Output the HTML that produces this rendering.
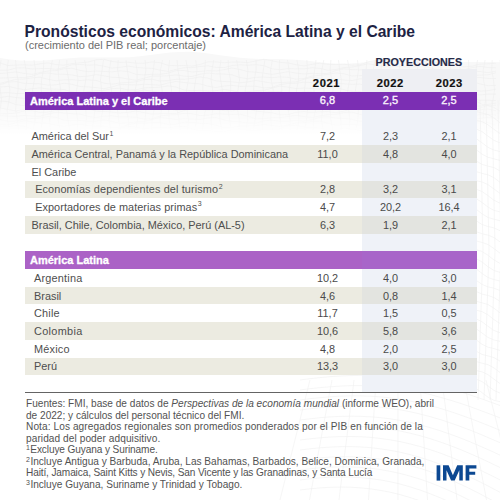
<!DOCTYPE html>
<html><head><meta charset="utf-8">
<style>
html,body{margin:0;padding:0;}
body{width:500px;height:500px;position:relative;overflow:hidden;background:#fff;font-family:"Liberation Sans",sans-serif;}
.title{position:absolute;left:24.5px;top:21.5px;font-size:15.65px;font-weight:bold;color:#1d2243;white-space:nowrap;line-height:20px;}
.sub{position:absolute;left:25px;top:38px;font-size:11px;color:#6c6c6c;white-space:nowrap;line-height:14px;}
.proj{position:absolute;left:361.8px;top:69px;width:115.2px;height:323.5px;background:linear-gradient(to bottom,#eeeff3 0,#eeeff3 22.5px,#eff2f8 22.5px,#eff2f8 100%);}
.projh{position:absolute;left:375.5px;top:55px;font-size:10.75px;font-weight:bold;color:#252a48;white-space:nowrap;line-height:14px;-webkit-text-stroke:0.15px #252a48;}
.yr{position:absolute;top:75.7px;width:60px;text-align:center;font-size:11.2px;font-weight:bold;color:#111;line-height:14px;letter-spacing:0.6px;text-indent:0.6px;-webkit-text-stroke:0.2px #111;}
.bar{position:absolute;left:25px;width:452px;height:17.68px;background:#7b2fb3;}
.bar2{background:linear-gradient(to right,#ab62c6 0,#ab62c6 337px,#a865c9 337px,#a865c9 100%);}
.bl{position:absolute;left:5px;top:0;line-height:17.68px;font-size:11px;font-weight:bold;color:#fff;white-space:nowrap;-webkit-text-stroke:0.3px #fff;padding-top:0.5px;}
.bv{position:absolute;top:0;width:60px;text-align:center;line-height:17.68px;font-size:11px;color:#fbf3fd;-webkit-text-stroke:0.35px #fbf3fd;}
.beige{position:absolute;left:25px;width:452px;height:17.68px;background:linear-gradient(to right,#ecebe1 0,#ecebe1 337px,#e3e4e0 337px,#e3e4e0 100%);}
.lab{position:absolute;padding-top:0.8px;line-height:17.68px;font-size:10.9px;color:#4e4e4e;white-space:nowrap;}
.lab sup{font-size:7px;vertical-align:top;line-height:10px;position:relative;top:0.3px;margin-left:0.5px;}
.num{position:absolute;padding-top:0.8px;width:60px;text-align:center;line-height:17.68px;font-size:10.9px;color:#4a4a4a;}
.rule{position:absolute;left:25px;top:391.9px;width:452px;height:1.4px;background:#646464;}
.foot{position:absolute;left:26px;top:398.3px;font-size:10.1px;line-height:11.5px;color:#525252;white-space:nowrap;}
.foot sup{font-size:7px;vertical-align:top;line-height:8px;margin-right:0.5px;}
</style></head><body>
<svg class="tex" width="500" height="500" viewBox="0 0 500 500" style="position:absolute;left:0;top:0"><defs><linearGradient id="fd" x1="0" y1="0" x2="0" y2="1" gradientUnits="objectBoundingBox"><stop offset="0" stop-color="#fff" stop-opacity="1"/><stop offset="0.6" stop-color="#fff" stop-opacity="1"/><stop offset="1" stop-color="#fff" stop-opacity="0"/></linearGradient><mask id="mk"><rect x="0" y="50" width="500" height="86" fill="url(#fd)"/></mask></defs><g mask="url(#mk)"><polygon points="0,58.1 10,59.4 20,60.4 30,60.8 40,60.7 50,60.1 60,59.1 70,58.3 80,57.6 90,57.4 100,57.4 110,57.5 120,57.5 130,57.2 140,56.3 150,55.1 160,53.8 170,52.6 180,51.9 190,51.8 200,52.5 210,53.7 220,55.2 230,56.6 240,57.8 250,58.5 260,58.9 270,58.9 280,59.1 290,59.4 300,60.1 310,61.1 320,62.2 330,63.2 340,63.7 350,63.6 360,62.8 370,61.7 380,60.4 390,59.2 400,58.6 410,58.5 420,59.0 430,59.8 440,60.7 450,61.5 460,61.9 470,62.0 480,61.9 490,61.9 500,62.2 500,135 0,135" fill="#f8f8f8"/><g fill="none" stroke="#eeeeee" stroke-width="0.6"><polyline points="0,63.0 8,65.5 16,65.1 24,64.8 32,65.2 40,63.8 48,62.9 56,64.6 64,65.2 72,63.6 80,62.8 88,62.1 96,59.8 104,59.3 112,61.5 120,62.4 128,62.2 136,63.2 144,63.3 152,61.9 160,62.7 168,65.3 176,65.7 184,65.5 192,66.1 200,64.5 208,61.8 216,61.9 224,62.8 232,62.1 240,62.1 248,62.6 256,60.9 264,59.3 272,60.8 280,62.4 288,63.0 296,64.7 304,65.9 312,64.3 320,63.2 328,64.4 336,64.6 344,64.2 352,65.2 360,64.8 368,61.8 376,60.4 384,60.9 392,60.5 400,60.8 408,63.0 416,63.1 424,61.5 432,61.8 440,63.1 448,63.2 456,64.6 464,66.9 472,66.2 480,64.1 488,63.8 496,63.2"/><polyline points="0,70.2 8,70.2 16,68.0 24,67.8 32,69.0 40,68.6 48,68.5 56,69.3 64,67.6 72,64.7 80,64.5 88,65.1 96,64.9 104,66.2 112,68.1 120,67.3 128,66.1 136,67.3 144,68.1 152,68.3 160,70.2 168,71.4 176,69.4 184,67.7 192,67.6 200,66.5 208,65.8 216,67.4 224,67.6 232,65.5 240,64.8 248,65.2 256,64.7 264,65.7 272,68.8 280,69.7 288,68.6 296,68.9 304,68.9 312,67.7 320,68.4 328,70.3 336,69.5 344,67.6 352,67.0 360,65.6 368,63.8 376,65.0 384,66.9 392,66.6 400,66.4 408,67.1 416,66.4 424,65.9 432,68.4 440,70.4 448,70.0 456,70.1 464,69.9 472,67.6 480,66.3 488,67.6 496,67.8"/><polyline points="0,73.5 8,72.8 16,71.9 24,73.4 32,74.4 40,72.5 48,71.0 56,70.6 64,68.8 72,68.2 80,70.4 88,71.7 96,71.0 104,71.4 112,71.9 120,70.8 128,71.5 136,74.3 144,75.0 152,74.2 160,74.3 168,73.2 176,70.6 184,70.5 192,72.0 200,71.4 208,70.7 216,71.0 224,69.7 232,68.0 240,69.5 248,71.7 256,72.2 264,73.2 272,74.4 280,73.1 288,71.7 296,73.1 304,74.0 312,73.3 320,73.7 328,73.4 336,70.5 344,68.8 352,69.6 360,69.9 368,69.9 376,71.5 384,71.9 392,70.1 400,70.2 408,72.0 416,72.6 424,73.5 432,75.6 440,75.1 448,72.6 456,72.1 464,72.2 472,71.1 480,71.5 488,72.7 496,71.1"/><polyline points="0,78.0 8,77.9 16,77.3 24,77.7 32,76.3 40,73.4 48,73.0 56,74.2 64,74.3 72,75.0 80,76.7 88,76.1 96,74.6 104,75.8 112,77.3 120,77.6 128,79.0 136,80.2 144,78.2 152,76.1 160,76.1 168,75.8 176,74.9 184,76.1 192,76.5 200,74.2 208,73.0 216,73.9 224,74.0 232,74.8 240,77.6 248,78.7 256,77.3 264,77.1 272,77.7 280,76.9 288,77.3 296,79.2 304,78.5 312,76.1 320,75.3 328,74.4 336,72.9 344,73.8 352,76.0 360,75.6 368,74.8 376,75.5 384,75.3 392,74.9 400,77.2 408,79.5 416,79.0 424,78.4 432,78.3 440,76.5 448,75.1 456,76.4 464,77.1 472,75.6 480,75.1 488,74.8 496,72.8"/><polyline points="0,83.3 8,81.4 16,79.3 24,79.0 32,77.9 40,77.2 48,79.3 56,80.8 64,79.8 72,79.7 80,80.5 88,79.9 96,80.4 104,83.2 112,84.2 120,83.0 128,82.5 136,81.8 144,79.6 152,79.3 160,81.0 168,80.7 176,79.3 184,79.3 192,78.4 200,76.9 208,78.2 216,80.9 224,81.5 232,81.8 240,82.8 248,81.9 256,80.5 264,81.8 272,83.2 280,82.5 288,82.2 296,81.9 304,79.3 312,77.3 320,78.4 328,79.2 336,78.9 344,80.0 352,80.5 360,78.8 368,78.7 376,80.9 384,82.0 392,82.5 400,84.1 408,83.8 416,81.2 424,80.5 432,81.1 440,80.4 448,80.3 456,81.3 464,79.9 472,77.4 480,77.5 488,78.4 496,78.5"/><polyline points="0,84.9 8,82.1 16,81.6 24,83.3 32,83.6 40,83.8 48,85.2 56,84.8 64,83.2 72,84.3 80,86.5 88,86.9 96,87.6 104,88.7 112,87.0 120,84.5 128,84.7 136,85.0 144,84.2 152,84.7 160,85.2 168,83.0 176,81.4 184,82.5 192,83.3 200,83.9 208,86.2 216,87.5 224,86.0 232,85.4 240,86.4 248,86.2 256,86.3 264,87.9 272,87.4 280,84.6 288,83.5 296,83.3 304,82.1 312,82.7 320,84.8 328,84.6 336,83.2 344,83.8 352,84.3 360,84.1 368,86.1 376,88.6 384,88.0 392,86.7 400,86.7 408,85.5 416,84.0 424,85.3 432,86.2 440,84.6 448,83.4 456,83.2 464,81.8 472,81.4 480,84.0 488,85.7 496,85.4"/><polyline points="0,87.0 8,86.4 16,88.1 24,89.8 32,88.7 40,87.9 48,89.0 56,89.1 64,89.5 72,92.0 80,93.3 88,91.7 96,90.7 104,90.4 112,88.7 120,88.2 128,89.9 136,89.8 144,87.9 152,87.5 160,87.2 168,85.9 176,87.0 184,90.0 192,90.7 200,90.3 208,91.1 216,90.7 224,89.4 232,90.6 240,92.4 248,91.7 256,90.6 264,90.3 272,88.1 280,86.1 288,87.2 296,88.5 304,88.0 312,88.4 320,89.1 328,87.7 336,87.3 344,89.8 352,91.4 360,91.5 368,92.5 376,92.4 384,89.9 392,89.0 400,90.1 408,89.8 416,89.2 424,89.8 432,88.7 440,86.0 448,85.9 456,87.5 464,87.9 472,89.1 480,91.1 488,90.7 496,89.1"/><polyline points="0,93.0 8,92.6 16,93.5 24,93.5 32,92.0 40,93.0 48,95.6 56,96.3 64,96.3 72,97.1 80,95.7 88,93.2 96,93.3 104,94.2 112,93.4 120,93.3 128,93.7 136,91.8 144,89.9 152,91.2 160,92.7 168,93.1 176,94.9 184,96.2 192,94.7 200,93.8 208,95.1 216,95.6 224,95.4 232,96.6 240,96.2 248,93.3 256,91.8 264,92.1 272,91.5 280,91.6 288,93.6 296,93.5 304,91.8 312,92.0 320,93.2 328,93.4 336,95.0 344,97.4 352,97.0 360,95.1 368,95.0 376,94.5 384,93.2 392,94.1 400,95.2 408,93.5 416,91.7 424,91.6 432,90.8 440,90.4 448,92.9 456,94.9 464,94.3 472,94.3 480,95.0 488,94.1 496,94.1"/><polyline points="0,97.5 8,96.3 16,97.5 24,98.3 32,98.6 40,100.8 48,102.2 56,100.5 64,99.0 72,99.0 80,97.9 88,97.2 96,98.7 104,98.8 112,96.6 120,95.7 128,95.8 136,95.1 144,95.9 152,98.9 160,99.8 168,98.9 176,99.3 184,99.5 192,98.4 200,99.4 208,101.5 216,100.8 224,99.0 232,98.5 240,96.9 248,95.0 256,96.0 264,97.7 272,97.1 280,96.8 288,97.5 296,96.6 304,96.1 312,98.6 320,100.7 328,100.5 336,100.9 344,101.0 352,98.8 360,97.6 368,99.0 376,99.2 384,98.1 392,98.1 400,97.3 408,94.8 416,94.5 424,96.5 432,97.3 440,97.9 448,99.6 456,99.4 464,97.7 472,98.5 480,100.2 488,100.2 496,100.6"/><polyline points="0,101.0 8,101.7 16,104.6 24,105.6 32,105.0 40,105.4 48,104.4 56,102.0 64,101.9 72,103.3 80,102.7 88,101.9 96,102.1 104,100.5 112,98.6 120,99.9 128,101.9 136,102.3 144,103.4 152,104.7 160,103.5 168,102.3 176,103.9 184,104.9 192,104.5 200,105.1 208,104.9 216,102.0 224,100.2 232,100.9 240,100.8 248,100.6 256,102.2 264,102.3 272,100.4 280,100.4 288,102.1 296,102.7 304,103.9 312,106.1 320,105.8 328,103.6 336,103.3 344,103.5 352,102.4 360,102.9 368,104.0 376,102.4 384,100.0 392,100.0 400,99.9 408,99.6 416,101.7 424,103.9 432,103.2 440,102.5 448,103.4 456,103.3 464,103.2 472,105.3 480,106.3 488,104.4 496,103.1"/><polyline points="0,107.9 8,109.5 16,111.0 24,109.3 32,107.3 40,107.5 48,107.1 56,106.3 64,107.4 72,107.7 80,105.3 88,103.9 96,104.5 104,104.4 112,105.0 120,107.7 128,108.8 136,107.5 144,107.6 152,108.3 160,107.6 168,108.3 176,110.4 184,109.8 192,107.5 200,106.7 208,105.8 216,104.1 224,104.8 232,106.8 240,106.2 248,105.2 256,105.8 264,105.5 272,105.1 280,107.4 288,109.9 296,109.6 304,109.2 312,109.4 320,107.7 328,106.4 336,107.8 344,108.5 352,107.0 360,106.4 368,105.9 376,103.6 384,103.2 392,105.5 400,106.7 408,106.7 416,108.0 424,108.1 432,106.5 440,107.1 448,109.3 456,109.6 464,109.3 472,109.8 480,108.1 488,105.3 496,105.2"/><polyline points="0,113.8 8,113.6 16,113.1 24,110.9 32,110.7 40,112.4 48,112.0 56,110.5 64,110.3 72,109.3 80,107.5 88,108.6 96,111.1 104,111.6 112,112.0 120,113.1 128,112.3 136,111.0 144,112.6 152,114.2 160,113.7 168,113.5 176,113.4 184,110.7 192,108.7 200,109.6 208,110.2 216,109.7 224,110.6 232,111.0 240,109.1 248,108.9 256,111.0 264,112.1 272,112.8 280,114.7 288,114.6 296,112.2 304,111.7 312,112.4 320,111.8 328,111.7 336,112.7 344,111.2 352,108.5 360,108.4 368,109.0 376,108.9 384,110.5 392,112.7 400,112.1 408,110.9 416,111.9 424,112.4 432,112.3 440,114.1 448,115.3 456,113.2 464,111.4 472,111.1 480,109.8 488,109.0 496,110.8"/><polyline points="0,115.8 8,116.1 16,116.4 24,115.5 32,116.1 40,116.4 48,114.0 56,112.3 64,113.1 72,113.7 80,114.1 88,116.4 96,117.7 104,116.2 112,115.8 120,117.0 128,116.9 136,117.3 144,119.1 152,118.8 160,116.1 168,115.0 176,114.6 184,113.3 192,113.7 200,115.6 208,115.2 216,113.7 224,114.1 232,114.4 240,114.2 248,116.3 256,118.9 264,118.6 272,117.6 280,117.7 288,116.6 296,115.4 304,116.6 312,117.6 320,115.9 328,114.7 336,114.3 344,112.6 352,112.0 360,114.4 368,116.0 376,115.6 384,116.2 392,116.7 400,115.4 408,115.8 416,118.3 424,118.9 432,118.1 440,118.1 448,116.8 456,114.1 464,113.8 472,115.2 480,114.8 488,114.4 496,115.1"/><polyline points="0,119.6 8,121.3 16,121.1 24,119.1 32,118.5 40,118.0 48,116.5 56,117.4 64,120.2 72,120.8 80,120.5 88,121.4 96,121.1 104,119.9 112,121.4 120,123.4 128,122.8 136,122.0 144,121.7 152,119.5 160,117.4 168,118.4 176,119.5 184,118.8 192,119.1 200,119.5 208,117.9 216,117.5 224,119.9 232,121.5 240,121.8 248,123.1 256,123.3 264,120.9 272,120.2 280,121.4 288,121.2 296,120.6 304,121.2 312,119.9 320,117.1 328,116.8 336,118.1 344,118.3 352,119.3 360,121.4 368,120.9 376,119.4 384,120.4 392,121.6 400,121.6 408,122.9 416,124.0 424,122.0 432,119.7 440,119.5 448,119.0 456,118.2 464,119.5 472,120.3 480,118.4 488,117.4 496,118.3"/><polyline points="0,124.7 8,124.9 16,122.8 24,120.7 32,121.8 40,123.0 48,123.3 56,125.1 64,126.4 72,125.0 80,124.2 88,125.7 96,126.3 104,126.3 112,127.8 120,127.6 128,124.7 136,123.2 144,123.4 152,122.6 160,122.6 168,124.4 176,124.1 184,122.2 192,122.4 200,123.4 208,123.5 216,125.2 224,127.8 232,127.5 240,126.0 248,126.0 256,125.6 264,124.5 272,125.5 280,126.6 288,124.9 296,122.9 304,122.7 312,121.6 320,121.0 328,123.3 336,125.1 344,124.5 352,124.5 360,125.2 368,124.5 376,124.7 384,127.2 392,128.2 400,126.8 408,126.3 416,125.4 424,123.0 432,122.5 440,124.2 448,124.1 456,123.1 464,123.4 472,122.8 480,121.3 488,122.6 496,125.3"/><polyline points="0,126.7 8,126.7 16,125.6 24,126.3 32,129.1 40,130.0 48,129.1 56,129.6 64,129.9 72,129.0 80,130.2 88,132.5 96,132.0 104,130.4 112,130.0 120,128.4 128,126.3 136,127.2 144,128.7 152,127.9 160,127.4 168,127.9 176,126.8 184,126.3 192,128.8 200,130.9 208,130.9 216,131.5 224,131.8 232,129.8 240,128.8 248,130.3 256,130.5 264,129.5 272,129.5 280,128.6 288,125.8 296,125.3 304,127.1 312,127.7 320,128.1 328,129.8 336,129.6 344,128.0 352,128.9 360,130.7 368,130.9 376,131.6 384,132.6 392,130.8 400,128.1 408,128.0 416,128.2 424,127.4 432,128.2 440,129.0 448,127.2 456,125.8 464,126.9 472,127.7 480,128.3 488,130.8 496,132.2"/><polyline points="1.1,60 -0.8,70 -1.4,80 0.4,90 1.5,100 -0.0,110 -1.5,120 -0.4,130"/><polyline points="8.3,60 7.0,70 8.3,80 9.9,90 9.1,100 7.2,110 7.5,120 9.5,130"/><polyline points="15.6,60 16.2,70 18.1,80 18.1,90 16.2,100 15.6,110 17.4,120 18.5,130"/><polyline points="24.2,60 26.1,70 26.9,80 25.3,90 24.0,100 25.3,110 26.9,120 26.1,130"/><polyline points="34.0,60 35.5,70 34.4,80 32.6,90 33.2,100 35.1,110 35.1,120 33.2,130"/><polyline points="43.8,60 43.5,70 41.5,80 41.2,90 43.1,100 43.9,110 42.3,120 41.0,130"/><polyline points="52.4,60 50.6,70 49.5,80 51.0,90 52.5,100 51.4,110 49.6,120 50.2,130"/><polyline points="59.7,60 58.1,70 58.9,80 60.8,90 60.5,100 58.5,110 58.2,120 60.1,130"/><polyline points="66.9,60 66.9,70 68.8,80 69.4,90 67.6,100 66.5,110 68.0,120 69.5,130"/><polyline points="75.1,60 76.7,70 78.0,80 76.7,90 75.1,100 75.9,110 77.8,120 77.5,130"/><polyline points="84.6,60 86.4,70 85.8,80 83.9,90 83.9,100 85.8,110 86.4,120 84.6,130"/><polyline points="94.5,60 94.8,70 92.9,80 92.1,90 93.7,100 95.0,110 93.7,120 92.1,130"/><polyline points="103.5,60 102.0,70 100.5,80 101.6,90 103.4,100 102.8,110 100.9,120 100.9,130"/><polyline points="111.1,60 109.2,70 109.5,80 111.5,90 111.8,100 109.9,110 109.1,120 110.7,130"/><polyline points="118.2,60 117.6,70 119.4,80 120.5,90 119.0,100 117.5,110 118.6,120 120.4,130"/><polyline points="126.0,60 127.3,70 128.9,80 128.1,90 126.2,100 126.5,110 128.5,120 128.8,130"/><polyline points="135.2,60 137.1,70 137.1,80 135.2,90 134.6,100 136.4,110 137.5,120 136.0,130"/><polyline points="145.1,60 145.9,70 144.3,80 143.0,90 144.3,100 145.9,110 145.1,120 143.2,130"/><polyline points="154.5,60 153.4,70 151.6,80 152.2,90 154.1,100 154.1,110 152.2,120 151.6,130"/><polyline points="162.5,60 160.5,70 160.2,80 162.1,90 162.9,100 161.3,110 160.0,120 161.3,130"/><polyline points="169.6,60 168.5,70 170.0,80 171.5,90 170.4,100 168.6,110 169.2,120 171.1,130"/><polyline points="177.1,60 177.9,70 179.8,80 179.5,90 177.5,100 177.3,110 179.1,120 179.9,130"/><polyline points="185.9,60 187.8,70 188.4,80 186.6,90 185.5,100 187.0,110 188.5,120 187.4,130"/><polyline points="195.7,60 197.0,70 195.7,80 194.1,90 194.9,100 196.8,110 196.5,120 194.5,130"/><polyline points="205.4,60 204.8,70 202.9,80 202.9,90 204.8,100 205.4,110 203.6,120 202.5,130"/><polyline points="213.8,60 211.9,70 211.1,80 212.7,90 214.0,100 212.7,110 211.1,120 211.9,130"/><polyline points="221.0,60 219.5,70 220.6,80 222.4,90 221.8,100 219.9,110 219.9,120 221.8,130"/><polyline points="228.2,60 228.5,70 230.5,80 230.7,90 228.9,100 228.1,110 229.7,120 231.0,130"/><polyline points="236.6,60 238.4,70 239.5,80 238.0,90 236.5,100 237.6,110 239.4,120 238.8,130"/><polyline points="246.3,60 247.9,70 247.1,80 245.2,90 245.5,100 247.5,110 247.7,120 245.9,130"/><polyline points="256.1,60 256.1,70 254.2,80 253.6,90 255.4,100 256.5,110 255.0,120 253.5,130"/><polyline points="264.9,60 263.3,70 262.0,80 263.3,90 264.9,100 264.1,110 262.2,120 262.5,130"/><polyline points="272.4,60 270.6,70 271.2,80 273.2,90 273.1,100 271.2,110 270.6,120 272.5,130"/><polyline points="279.5,60 279.3,70 281.1,80 281.9,90 280.3,100 279.0,110 280.3,120 281.9,130"/><polyline points="287.5,60 289.0,70 290.5,80 289.4,90 287.6,100 288.2,110 290.2,120 290.1,130"/><polyline points="296.9,60 298.8,70 298.5,80 296.5,90 296.3,100 298.2,110 298.9,120 297.3,130"/><polyline points="306.8,60 307.4,70 305.6,80 304.5,90 306.0,100 307.5,110 306.4,120 304.6,130"/><polyline points="316.0,60 314.7,70 313.1,80 313.9,90 315.8,100 315.5,110 313.5,120 313.3,130"/><polyline points="323.8,60 321.8,70 321.9,80 323.8,90 324.4,100 322.5,110 321.5,120 323.0,130"/><polyline points="330.9,60 330.1,70 331.7,80 333.0,90 331.7,100 330.1,110 330.9,120 332.8,130"/><polyline points="338.5,60 339.6,70 341.4,80 340.8,90 338.8,100 338.9,110 340.8,120 341.3,130"/><polyline points="347.5,60 349.5,70 349.7,80 347.8,90 347.1,100 348.7,110 350.0,120 348.7,130"/><polyline points="357.5,60 358.5,70 357.0,80 355.5,90 356.6,100 358.4,110 357.8,120 355.8,130"/><polyline points="366.9,60 366.1,70 364.2,80 364.5,90 366.5,100 366.7,110 364.8,120 364.1,130"/><polyline points="375.1,60 373.2,70 372.6,80 374.5,90 375.5,100 374.0,110 372.5,120 373.6,130"/><polyline points="382.3,60 381.0,70 382.3,80 383.9,90 383.1,100 381.2,110 381.5,120 383.5,130"/><polyline points="389.6,60 390.2,70 392.2,80 392.1,90 390.2,100 389.7,110 391.5,120 392.5,130"/><polyline points="398.3,60 400.2,70 400.9,80 399.3,90 398.0,100 399.3,110 400.9,120 400.1,130"/><polyline points="408.0,60 409.5,70 408.4,80 406.6,90 407.2,100 409.2,110 409.1,120 407.2,130"/><polyline points="417.8,60 417.5,70 415.5,80 415.3,90 417.2,100 417.9,110 416.2,120 415.0,130"/><polyline points="426.3,60 424.5,70 423.5,80 425.0,90 426.5,100 425.4,110 423.6,120 424.2,130"/><polyline points="433.7,60 432.1,70 432.9,80 434.8,90 434.5,100 432.5,110 432.3,120 434.2,130"/><polyline points="440.8,60 440.9,70 442.8,80 443.3,90 441.5,100 440.5,110 442.0,120 443.5,130"/><polyline points="449.1,60 450.8,70 452.0,80 450.7,90 449.0,100 449.9,110 451.8,120 451.4,130"/><polyline points="458.6,60 460.4,70 459.8,80 457.8,90 457.9,100 459.8,110 460.3,120 458.5,130"/><polyline points="468.5,60 468.7,70 466.8,80 466.1,90 467.8,100 469.0,110 467.7,120 466.0,130"/><polyline points="477.5,60 476.0,70 474.5,80 475.6,90 477.4,100 476.8,110 474.8,120 474.9,130"/><polyline points="485.1,60 483.2,70 483.5,80 485.5,90 485.7,100 483.8,110 483.1,120 484.8,130"/><polyline points="492.2,60 491.7,70 493.5,80 494.5,90 493.0,100 491.5,110 492.6,120 494.4,130"/><polyline points="500.0,60 501.3,70 503.0,80 502.1,90 500.2,100 500.6,110 502.5,120 502.7,130"/></g></g><g fill="none" stroke="#f0f0f0" stroke-width="0.6"><polyline points="300,380.0 310,378.7 320,377.6 330,376.7 340,376.0 350,375.6 360,375.4 370,375.6 380,376.1 390,376.9 400,378.0 410,379.5 420,381.4 430,383.5 440,386.0 450,388.7 460,391.7 470,394.9 480,398.3 490,401.9 500,405.5"/><polyline points="300,390.0 310,388.7 320,387.6 330,386.8 340,386.1 350,385.7 360,385.6 370,385.9 380,386.4 390,387.4 400,388.6 410,390.3 420,392.2 430,394.5 440,397.2 450,400.1 460,403.2 470,406.6 480,410.3 490,414.0 500,417.9"/><polyline points="300,400.0 310,398.7 320,397.7 330,396.8 340,396.2 350,395.9 360,395.9 370,396.2 380,396.8 390,397.9 400,399.2 410,401.0 420,403.1 430,405.5 440,408.3 450,411.4 460,414.8 470,418.4 480,422.2 490,426.2 500,430.3"/><polyline points="300,410.0 310,408.8 320,407.7 330,406.9 340,406.3 350,406.0 360,406.1 370,406.5 380,407.2 390,408.3 400,409.8 410,411.7 420,414.0 430,416.6 440,419.5 450,422.8 460,426.3 470,430.1 480,434.1 490,438.4 500,442.7"/><polyline points="300,420.0 310,418.8 320,417.7 330,416.9 340,416.4 350,416.2 360,416.3 370,416.8 380,417.6 390,418.8 400,420.4 410,422.4 420,424.8 430,427.6 440,430.7 450,434.1 460,437.8 470,441.8 480,446.1 490,450.5 500,455.1"/><polyline points="300,430.0 310,428.8 320,427.7 330,427.0 340,426.5 350,426.3 360,426.5 370,427.1 380,428.0 390,429.3 400,431.0 410,433.2 420,435.7 430,438.6 440,441.9 450,445.5 460,449.4 470,453.6 480,458.0 490,462.7 500,467.5"/><polyline points="300,440.0 310,438.8 320,437.8 330,437.0 340,436.6 350,436.5 360,436.7 370,437.3 380,438.4 390,439.8 400,441.6 410,443.9 420,446.5 430,449.6 440,453.0 450,456.8 460,460.9 470,465.3 480,470.0 490,474.9 500,479.9"/><polyline points="300,450.0 310,448.8 320,447.8 330,447.1 340,446.7 350,446.6 360,446.9 370,447.6 380,448.8 390,450.3 400,452.2 410,454.6 420,457.4 430,460.6 440,464.2 450,468.2 460,472.5 470,477.1 480,481.9 490,487.0 500,492.3"/><polyline points="300,460.0 310,458.8 320,457.8 330,457.1 340,456.8 350,456.8 360,457.2 370,457.9 380,459.1 390,460.8 400,462.8 410,465.3 420,468.3 430,471.6 440,475.4 450,479.5 460,484.0 470,488.8 480,493.9 490,499.2 500,504.7"/><polyline points="300,470.0 310,468.8 320,467.8 330,467.2 340,466.9 350,466.9 360,467.4 370,468.2 380,469.5 390,471.3 400,473.4 410,476.1 420,479.1 430,482.6 440,486.6 450,490.9 460,495.5 470,500.5 480,505.8 490,511.4 500,517.1"/><polyline points="300,480.0 310,478.8 320,477.9 330,477.2 340,477.0 350,477.1 360,477.6 370,478.5 380,479.9 390,481.7 400,484.0 410,486.8 420,490.0 430,493.7 440,497.7 450,502.2 460,507.1 470,512.3 480,517.8 490,523.5 500,529.5"/><polyline points="300,490.0 310,488.8 320,487.9 330,487.3 340,487.1 350,487.2 360,487.8 370,488.8 380,490.3 390,492.2 400,494.6 410,497.5 420,500.9 430,504.7 440,508.9 450,513.6 460,518.6 470,524.0 480,529.7 490,535.7 500,541.9"/><polyline points="310.0,380 307.5,390 305.0,400 302.5,410 300.0,420 297.5,430 295.0,440 292.5,450 290.0,460 287.5,470 285.0,480 282.5,490 280.0,500"/><polyline points="332.0,380 330.1,390 328.2,400 326.4,410 324.5,420 322.6,430 320.8,440 318.9,450 317.0,460 315.1,470 313.2,480 311.4,490 309.5,500"/><polyline points="354.0,380 352.8,390 351.5,400 350.2,410 349.0,420 347.8,430 346.5,440 345.2,450 344.0,460 342.8,470 341.5,480 340.2,490 339.0,500"/><polyline points="376.0,380 375.4,390 374.8,400 374.1,410 373.5,420 372.9,430 372.2,440 371.6,450 371.0,460 370.4,470 369.8,480 369.1,490 368.5,500"/><polyline points="398.0,380 398.0,390 398.0,400 398.0,410 398.0,420 398.0,430 398.0,440 398.0,450 398.0,460 398.0,470 398.0,480 398.0,490 398.0,500"/><polyline points="420.0,380 420.6,390 421.2,400 421.9,410 422.5,420 423.1,430 423.8,440 424.4,450 425.0,460 425.6,470 426.2,480 426.9,490 427.5,500"/><polyline points="442.0,380 443.2,390 444.5,400 445.8,410 447.0,420 448.2,430 449.5,440 450.8,450 452.0,460 453.2,470 454.5,480 455.8,490 457.0,500"/><polyline points="464.0,380 465.9,390 467.8,400 469.6,410 471.5,420 473.4,430 475.2,440 477.1,450 479.0,460 480.9,470 482.8,480 484.6,490 486.5,500"/><polyline points="486.0,380 488.5,390 491.0,400 493.5,410 496.0,420 498.5,430 501.0,440 503.5,450 506.0,460 508.5,470 511.0,480 513.5,490 516.0,500"/><polyline points="508.0,380 511.1,390 514.2,400 517.4,410 520.5,420 523.6,430 526.8,440 529.9,450 533.0,460 536.1,470 539.2,480 542.4,490 545.5,500"/><polyline points="476,101.2 482,104.3 488,105.7 494,107.5 500,111.2"/><polyline points="476,111.4 482,113.0 488,114.6 494,118.0 500,122.7"/><polyline points="476,120.3 482,121.7 488,124.8 494,129.4 500,133.5"/><polyline points="476,128.9 482,131.6 488,136.1 494,140.4 500,142.9"/><polyline points="476,138.5 482,142.8 488,147.3 494,150.1 500,151.5"/><polyline points="476,149.5 482,154.1 488,157.3 494,158.8 500,160.5"/><polyline points="476,160.9 482,164.4 488,166.1 494,167.6 500,170.9"/><polyline points="476,171.5 482,173.4 488,174.8 494,177.7 500,182.3"/><polyline points="476,180.7 482,182.0 488,184.6 494,189.0 500,193.4"/><polyline points="476,189.2 482,191.5 488,195.7 494,200.3 500,203.2"/><polyline points="476,198.5 482,202.4 488,207.1 494,210.4 500,211.9"/><polyline points="476,209.1 482,213.8 488,217.5 494,219.2 500,220.7"/><polyline points="476,220.6 482,224.5 488,226.5 494,227.9 500,230.7"/><polyline points="476,231.5 482,233.8 488,235.1 494,237.6 500,241.9"/><polyline points="476,241.0 482,242.4 488,244.5 494,248.6 500,253.2"/><polyline points="476,249.6 482,251.5 488,255.3 494,260.0 500,263.4"/><polyline points="476,258.6 482,262.0 488,266.7 494,270.5 500,272.4"/><polyline points="476,268.8 482,273.4 488,277.5 494,279.6 500,281.0"/><polyline points="476,280.2 482,284.4 488,286.9 494,288.2 500,290.5"/><polyline points="476,291.3 482,294.1 488,295.5 494,297.5 500,301.4"/><polyline points="476,301.3 482,302.8 488,304.5 494,308.2 500,312.9"/><polyline points="476,310.1 482,311.6 488,314.9 494,319.6 500,323.5"/><polyline points="476,318.8 482,321.8 488,326.3 494,330.5 500,332.7"/><polyline points="476,328.6 482,333.0 488,337.4 494,340.0 500,341.3"/><polyline points="476,339.7 482,344.3 488,347.2 494,348.6 500,350.5"/><polyline points="476,351.1 482,354.4 488,355.9 494,357.6 500,361.1"/><polyline points="476,361.5 482,363.2 488,364.7 494,367.9 500,372.5"/><polyline points="476,370.5 482,371.8 488,374.7 494,379.2 500,383.5"/><polyline points="476,379.1 482,381.6 488,385.9 494,390.4 500,393.1"/><polyline points="476,388.5 482,392.6 488,397.2 494,400.3 500,401.7"/><polyline points="480,100 483,250 478,400"/><polyline points="486,100 489,250 484,400"/><polyline points="492,100 495,250 490,400"/><polyline points="498,100 501,250 496,400"/></g></svg>
<div class="title">Pronósticos económicos: América Latina y el Caribe</div>
<div class="sub">(crecimiento del PIB real; porcentaje)</div>
<div class="proj"></div>
<div class="projh">PROYECCIONES</div>
<div class="yr" style="left:296.2px">2021</div>
<div class="yr" style="left:360.0px">2022</div>
<div class="yr" style="left:419px">2023</div>
<div class="bar" style="top:92.3px"><span class="bl">América Latina y el Caribe</span>
<span class="bv" style="left:272.5px">6,8</span><span class="bv" style="left:335.5px">2,5</span><span class="bv" style="left:394px">2,5</span></div>
<div class="lab" style="top:127.66px;left:31.5px">América del Sur<sup>1</sup></div>
<div class="num" style="top:127.66px;left:297.5px">7,2</div>
<div class="num" style="top:127.66px;left:360.5px">2,3</div>
<div class="num" style="top:127.66px;left:419px">2,1</div>
<div class="beige" style="top:145.34px"></div>
<div class="lab" style="top:145.34px;left:31.5px">América Central, Panamá y la República Dominicana</div>
<div class="num" style="top:145.34px;left:297.5px">11,0</div>
<div class="num" style="top:145.34px;left:360.5px">4,8</div>
<div class="num" style="top:145.34px;left:419px">4,0</div>
<div class="lab" style="top:163.02px;left:31.5px">El Caribe</div>
<div class="beige" style="top:180.70px"></div>
<div class="lab" style="top:180.70px;left:35.2px;letter-spacing:0.11px">Economías dependientes del turismo<sup>2</sup></div>
<div class="num" style="top:180.70px;left:297.5px">2,8</div>
<div class="num" style="top:180.70px;left:360.5px">3,2</div>
<div class="num" style="top:180.70px;left:419px">3,1</div>
<div class="lab" style="top:198.38px;left:35.2px;letter-spacing:0.05px">Exportadores de materias primas<sup>3</sup></div>
<div class="num" style="top:198.38px;left:297.5px">4,7</div>
<div class="num" style="top:198.38px;left:360.5px">20,2</div>
<div class="num" style="top:198.38px;left:419px">16,4</div>
<div class="beige" style="top:216.06px"></div>
<div class="lab" style="top:216.06px;left:31.5px">Brasil, Chile, Colombia, México, Perú (AL-5)</div>
<div class="num" style="top:216.06px;left:297.5px">6,3</div>
<div class="num" style="top:216.06px;left:360.5px">1,9</div>
<div class="num" style="top:216.06px;left:419px">2,1</div>
<div class="bar bar2" style="top:251.42px"><span class="bl">América Latina</span></div>
<div class="lab" style="top:269.10px;left:34px;letter-spacing:0.2px">Argentina</div>
<div class="num" style="top:269.10px;left:297.5px">10,2</div>
<div class="num" style="top:269.10px;left:360.5px">4,0</div>
<div class="num" style="top:269.10px;left:419px">3,0</div>
<div class="beige" style="top:286.78px"></div>
<div class="lab" style="top:286.78px;left:34px">Brasil</div>
<div class="num" style="top:286.78px;left:297.5px">4,6</div>
<div class="num" style="top:286.78px;left:360.5px">0,8</div>
<div class="num" style="top:286.78px;left:419px">1,4</div>
<div class="lab" style="top:304.46px;left:34px;letter-spacing:0.2px">Chile</div>
<div class="num" style="top:304.46px;left:297.5px">11,7</div>
<div class="num" style="top:304.46px;left:360.5px">1,5</div>
<div class="num" style="top:304.46px;left:419px">0,5</div>
<div class="beige" style="top:322.14px"></div>
<div class="lab" style="top:322.14px;left:34px;letter-spacing:0.33px">Colombia</div>
<div class="num" style="top:322.14px;left:297.5px">10,6</div>
<div class="num" style="top:322.14px;left:360.5px">5,8</div>
<div class="num" style="top:322.14px;left:419px">3,6</div>
<div class="lab" style="top:339.82px;left:34px;letter-spacing:0.2px">México</div>
<div class="num" style="top:339.82px;left:297.5px">4,8</div>
<div class="num" style="top:339.82px;left:360.5px">2,0</div>
<div class="num" style="top:339.82px;left:419px">2,5</div>
<div class="beige" style="top:357.50px"></div>
<div class="lab" style="top:357.50px;left:34px">Perú</div>
<div class="num" style="top:357.50px;left:297.5px">13,3</div>
<div class="num" style="top:357.50px;left:360.5px">3,0</div>
<div class="num" style="top:357.50px;left:419px">3,0</div>
<div class="rule"></div>
<div class="foot"><span class="fl" id="f1">Fuentes: FMI, base de datos de <i>Perspectivas de la economía mundial</i> (informe WEO), abril</span><br><span class="fl" id="f2">de 2022; y cálculos del personal técnico del FMI.</span><br><span class="fl" id="f3" style="letter-spacing:0.09px">Nota: Los agregados regionales son promedios ponderados por el PIB en función de la</span><br><span class="fl" id="f4" style="letter-spacing:0.08px">paridad del poder adquisitivo.</span><br><span class="fl" id="f5" style="letter-spacing:-0.11px"><sup>1</sup>Excluye Guyana y Suriname.</span><br><span class="fl" id="f6"><sup>2</sup>Incluye Antigua y Barbuda, Aruba, Las Bahamas, Barbados, Belice, Dominica, Granada,</span><br><span class="fl" id="f7" style="letter-spacing:-0.13px">Haití, Jamaica, Saint Kitts y Nevis, San Vicente y las Granadinas, y Santa Lucía</span><br><span class="fl" id="f8"><sup>3</sup>Incluye Guyana, Suriname y Trinidad y Tobago.</span></div>
<svg style="position:absolute;left:0;top:0" width="500" height="500" viewBox="0 0 500 500">
<g fill="#0c4892">
<rect x="436.6" y="465.3" width="3.7" height="15.3"/>
<polygon points="443,480.6 443,465.3 448.6,465.3 452.9,475.2 457.2,465.3 462.8,465.3 462.8,480.6 459.3,480.6 459.3,470.2 454.7,480.6 451.1,480.6 446.5,470.2 446.5,480.6"/>
<polygon points="465.6,465.3 476.4,465.3 476.4,468.4 469.3,468.4 469.3,471.7 475.2,471.7 475.2,474.7 469.3,474.7 469.3,480.6 465.6,480.6"/>
</g></svg>
</body></html>
